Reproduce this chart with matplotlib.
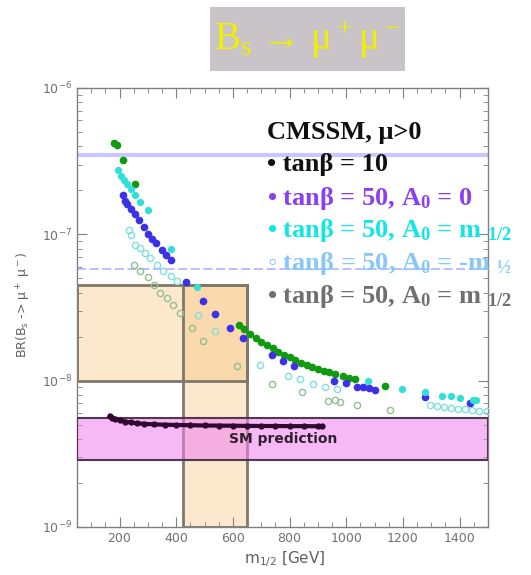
import matplotlib
matplotlib.use("Agg")
import matplotlib.pyplot as plt
from matplotlib.patches import Rectangle
import numpy as np

# ---------------- data ----------------
tb10_x = [165, 175, 185, 200, 220, 240, 260, 285, 320, 360, 400, 450, 500, 550, 600, 650, 700, 750, 800, 850, 900, 915]
tb10_y = [5.7e-9, 5.55e-9, 5.45e-9, 5.35e-9, 5.25e-9, 5.18e-9, 5.12e-9, 5.07e-9, 5.03e-9, 5.0e-9, 4.98e-9, 4.96e-9,
          4.94e-9, 4.93e-9, 4.92e-9, 4.91e-9, 4.9e-9, 4.9e-9, 4.89e-9, 4.89e-9, 4.88e-9, 4.88e-9]

green_x = [180, 190, 214, 253, 620, 640, 660, 680, 700, 720, 740, 760, 780, 800, 820, 840, 860, 880, 900, 920, 940, 960,
           990, 1010, 1030, 1137]
green_y = [4.2e-7, 4.1e-7, 3.2e-7, 2.2e-7, 2.4e-8, 2.25e-8, 2.1e-8, 1.95e-8, 1.85e-8, 1.75e-8, 1.66e-8, 1.58e-8, 1.5e-8,
           1.44e-8, 1.38e-8, 1.33e-8, 1.28e-8, 1.24e-8, 1.2e-8, 1.17e-8, 1.14e-8, 1.11e-8, 1.07e-8, 1.05e-8, 1.03e-8, 9.2e-9]

blue_x = [214, 220, 228, 240, 255, 270, 285, 300, 315, 330, 350, 365, 380, 436, 496, 538, 591, 637, 739, 778, 816, 957,
          999, 1038, 1060, 1080, 1101, 1277, 1436]
blue_y = [1.86e-7, 1.7e-7, 1.6e-7, 1.5e-7, 1.38e-7, 1.25e-7, 1.12e-7, 1.0e-7, 9.3e-8, 8.7e-8, 7.8e-8, 7.2e-8, 6.7e-8,
          4.7e-8, 3.5e-8, 2.85e-8, 2.3e-8, 1.95e-8, 1.5e-8, 1.37e-8, 1.25e-8, 1.0e-8, 9.6e-9, 9.1e-9, 9.0e-9, 8.9e-9,
          8.7e-9, 7.7e-9, 7.0e-9]

cyan_x = [193, 205, 215, 228, 239, 255, 274, 299, 380, 475, 1077, 1197, 1277, 1337, 1370, 1401, 1446, 1456]
cyan_y = [2.76e-7, 2.5e-7, 2.35e-7, 2.2e-7, 2.05e-7, 1.85e-7, 1.66e-7, 1.46e-7, 7.9e-8, 4.4e-8, 9.9e-9, 8.8e-9, 8.4e-9,
          7.8e-9, 7.8e-9, 7.6e-9, 7.4e-9, 7.4e-9]

lcyan_x = [232, 239, 256, 274, 291, 309, 333, 354, 380, 404, 478, 537, 696, 795, 837, 883, 925, 968, 1295, 1320, 1345,
           1370, 1395, 1420, 1445, 1470, 1495]
lcyan_y = [1.07e-7, 9.9e-8, 8.5e-8, 8.1e-8, 7.5e-8, 6.9e-8, 6.2e-8, 5.6e-8, 5.2e-8, 4.8e-8, 2.8e-8, 2.2e-8, 1.27e-8,
           1.08e-8, 1.03e-8, 9.5e-9, 9.1e-9, 8.8e-9, 6.8e-9, 6.7e-9, 6.6e-9, 6.5e-9, 6.45e-9, 6.4e-9, 6.3e-9, 6.25e-9,
           6.2e-9]

gray_x = [250, 274, 299, 320, 344, 369, 390, 415, 455, 496, 615, 739, 844, 935, 960, 978, 1038, 1154]
gray_y = [6.2e-8, 5.6e-8, 5.1e-8, 4.5e-8, 4.0e-8, 3.7e-8, 3.3e-8, 2.9e-8, 2.3e-8, 1.86e-8, 1.25e-8, 9.5e-9, 8.4e-9,
          7.3e-9, 7.4e-9, 7.2e-9, 6.8e-9, 6.3e-9]

limit_lines = [3.5e-7, 5.8e-8]
orange_h = (50, 650, 1.0e-8, 4.5e-8)
orange_v = (425, 650, 1.0e-9, 4.5e-8)
sm_band = (50, 1500, 2.85e-9, 5.6e-9)

legend_lines = [
    ("CMSSM, μ>0", "#101010"),
    ("• tanβ = 10", "#101010"),
    ("• tanβ = 50, A$_0$ = 0", "#8a3ff0"),
    ("• tanβ = 50, A$_0$ = m $_{1/2}$", "#10e8e8"),
    ("◦ tanβ = 50, A$_0$ = -m $_{½}$", "#88c8f8"),
    ("• tanβ = 50, A$_0$ = m $_{1/2}$", "#707070"),
]

# ---------------- figure ----------------
plt.rcParams['mathtext.fontset'] = 'custom'
plt.rcParams['mathtext.rm'] = 'Liberation Serif'
plt.rcParams['mathtext.bf'] = 'Liberation Serif:bold'
plt.rcParams['mathtext.default'] = 'bf'

W, H = 531, 575
fig = plt.figure(figsize=(W / 100, H / 100), dpi=100)
ax = fig.add_axes([77 / W, 1 - 527 / H, (488 - 77) / W, (527 - 88) / H])

ax.set_yscale('log')
ax.set_xlim(50, 1500)
ax.set_ylim(1e-9, 1e-6)

orange = '#f8c070'
ax.fill_between([orange_h[0], orange_h[1]], orange_h[2], orange_h[3], color=orange, alpha=0.35, lw=0, zorder=1)
ax.fill_between([orange_v[0], orange_v[1]], orange_v[2], orange_v[3], color=orange, alpha=0.35, lw=0, zorder=1)
for (x0, x1, y0, y1) in [orange_h, orange_v]:
    ax.add_patch(Rectangle((x0, y0), x1 - x0, y1 - y0, fill=False, ec='#807868', lw=2, zorder=2))

ax.fill_between([sm_band[0], sm_band[1]], sm_band[2], sm_band[3], color='#f080f0', alpha=0.55, lw=0, zorder=3)
ax.add_patch(Rectangle((sm_band[0], sm_band[2]), sm_band[1] - sm_band[0], sm_band[3] - sm_band[2],
                       fill=False, ec='#503850', lw=1.5, zorder=3))

ax.axhline(limit_lines[0], color='#c8c8ff', lw=3, zorder=2)
ax.axhline(limit_lines[1], color='#b8b8ff', lw=1.3, ls=(0, (5, 2)), zorder=2)

ax.plot(tb10_x, tb10_y, '-', color='#300830', lw=3, zorder=6)
ax.plot(tb10_x, tb10_y, 'o', color='#300830', ms=3.5, zorder=6)

ax.plot(gray_x, gray_y, 'o', mfc='none', mec='#90c090', mew=1.0, ms=4.5, ls='none', zorder=4)
ax.plot(lcyan_x, lcyan_y, 'o', mfc='none', mec='#80e0e0', mew=1.0, ms=4.5, ls='none', zorder=4)
ax.plot(green_x, green_y, 'o', color='#109a10', ms=4.5, ls='none', zorder=5)
ax.plot(blue_x, blue_y, 'o', color='#3c30e8', ms=4.5, ls='none', zorder=5)
ax.plot(cyan_x, cyan_y, 'o', color='#30e0d8', ms=4.2, ls='none', zorder=5)

ax.text(777, 4.0e-9, 'SM prediction', ha='center', va='center', fontsize=10, fontweight='bold',
        color='#302030', family='DejaVu Sans', zorder=7)

# axes styling
for s in ax.spines.values():
    s.set_color('#808080')
    s.set_linewidth(1)
ax.set_xticks([200, 400, 600, 800, 1000, 1200, 1400])
ax.xaxis.set_minor_locator(matplotlib.ticker.MultipleLocator(50))
ax.tick_params(which='both', direction='in', top=True, right=True, colors='#808080', labelcolor='#707070',
               labelsize=9)
ax.tick_params(which='major', length=7)
ax.tick_params(which='minor', length=3.5)
ax.set_xlabel('m$_{\\rm 1/2}$ [GeV]', fontsize=11, color='#606060', family='DejaVu Sans',
              math_fontfamily='dejavusans')
ax.set_ylabel('BR(B$_{\\rm s}$ -> μ$^{\\rm +}$ μ$^{\\rm -}$)', fontsize=9, color='#606060', family='DejaVu Sans',
              math_fontfamily='dejavusans')
ax.xaxis.set_label_coords((285 - 77) / (488 - 77), -0.05)
ax.yaxis.set_label_coords((33 - 77) / (488 - 77), (527 - 305) / (527 - 88))

# title
fig.patches.append(Rectangle((210 / W, 1 - 71 / H), (405 - 210) / W, (71 - 7) / H, transform=fig.transFigure,
                             facecolor='#c8c4c8', edgecolor='none'))
fig.text(307 / W, 1 - 40 / H, 'B$_{\\rm s}$ → μ$^{\\rm +}$μ$^{\\rm -}$', ha='center', va='center', fontsize=28,
         color='#f0f000', family='Liberation Serif')

# legend text
ys = [132, 165, 198, 230, 263, 296]
for (txt, col), y in zip(legend_lines, ys):
    fig.text(267 / W, 1 - y / H, txt, ha='left', va='center', fontsize=19, fontweight='bold', color=col,
             family=['Liberation Serif', 'DejaVu Serif'], math_fontfamily='custom')

fig.savefig('out.png', dpi=100)
